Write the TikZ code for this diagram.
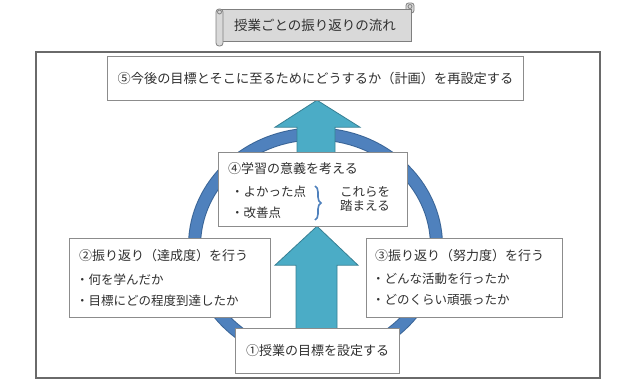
\documentclass[tikz,border=0pt]{standalone}
\usepackage{fontspec}
\setmainfont{Noto Sans CJK JP}
\usetikzlibrary{decorations.pathreplacing,calc}
\definecolor{txt}{HTML}{303030}
\definecolor{boxline}{HTML}{8C8C8C}
\definecolor{frameline}{HTML}{6A6A6A}
\definecolor{ringfill}{HTML}{4F81BD}
\definecolor{ringedge}{HTML}{3A6597}
\definecolor{arrowfill}{HTML}{4BACC6}
\definecolor{arrowedge}{HTML}{367F93}
\definecolor{scrollfill}{HTML}{D9D9D9}
\definecolor{scrollline}{HTML}{7F7F7F}
\tikzset{
  x=1pt, y=-1pt,
  whitebox/.style={draw=boxline, fill=white, line width=0.8pt, inner sep=0pt},
  bigarrow/.style={draw=arrowedge, fill=arrowfill, line width=0.8pt, line join=miter},
  headtext/.style={text=txt, font=\fontsize{13}{15}\selectfont, inner sep=0pt, anchor=west},
  itemtext/.style={text=txt, font=\fontsize{12.5}{15}\selectfont, inner sep=0pt, anchor=west},
  scrollpart/.style={draw=scrollline, fill=scrollfill, line width=0.8pt},
}
\begin{document}
\begin{tikzpicture}
\useasboundingbox (0,0) rectangle (640,391);
% title scroll
\draw[scrollpart, rounded corners=2.5pt] (406,3) rectangle (414,13);
\draw[scrollpart] (221,9) -- (411,9) -- (411,41) -- (221,41) -- cycle;
\draw[scrollpart, rounded corners=3pt] (216,9) rectangle (223,46);
\draw[scrollline, line width=0.8pt] (219.5,12) circle (2);
\draw[scrollline, line width=0.8pt] (410,6.5) circle (2);
\node[text=txt, font=\fontsize{13.5}{16}\selectfont, inner sep=0pt] (title) at (315,25) {授業ごとの振り返りの流れ};
% outer frame
\draw[frameline, line width=1.3pt] (36,52) rectangle (600,378);
% ring
\draw[ringedge, line width=13pt] (315.5,246) ellipse [x radius=121, y radius=112];
\draw[ringfill, line width=11pt] (315.5,246) ellipse [x radius=121, y radius=112];
% boxes (declared for names)
\path (315.5,78.5) node[minimum width=415, minimum height=43] (b5) {};
\path (313,189.5) node[minimum width=188, minimum height=73] (b4) {};
\path (170,278) node[minimum width=200, minimum height=78] (b2) {};
\path (464.5,278) node[minimum width=195, minimum height=78] (b3) {};
\path (317.5,351) node[minimum width=163, minimum height=44] (b1) {};
\coordinate (ax) at (317,0);
% lower arrow: b1 -> b4
\path (ax |- b4.south) coordinate (t1) (ax |- b1.north) coordinate (s1);
\draw[bigarrow] (t1) -- ([shift={(41,39)}]t1) -- ([shift={(20,39)}]t1) -- ([shift={(20,0)}]s1)
  -- ([shift={(-21,0)}]s1) -- ([shift={(-21,39)}]t1) -- ([shift={(-42,39)}]t1) -- cycle;
% upper arrow: b4 -> b5
\path (ax |- b5.south) coordinate (t2) (ax |- b4.north) coordinate (s2);
\draw[bigarrow] (t2) -- ([shift={(43,27)}]t2) -- ([shift={(18,27)}]t2) -- ([shift={(18,0)}]s2)
  -- ([shift={(-20,0)}]s2) -- ([shift={(-20,27)}]t2) -- ([shift={(-42,27)}]t2) -- cycle;
% draw boxes
\foreach \b in {b5,b4,b2,b3,b1}{
  \draw[whitebox] (\b.north west) rectangle (\b.south east);
}
% texts
\node[text=txt, font=\fontsize{13.2}{15}\selectfont, inner sep=0pt] (t5) at (b5.center) {⑤今後の目標とそこに至るためにどうするか（計画）を再設定する};
\node[headtext] (t4) at (228,169) {④学習の意義を考える};
\node[itemtext] (t4a) at (231,192) {・よかった点};
\node[itemtext] (t4b) at (231,213) {・改善点};
\draw[decorate, decoration={brace, amplitude=6pt}, draw=ringfill, line width=1.6pt] (315,186) -- (315,220);
\node[text=txt, font=\fontsize{12.5}{14}\selectfont, inner sep=0pt, align=center] (t4c) at (365,199) {これらを\\踏まえる};
\node[headtext] (t2) at (79,256) {②振り返り（達成度）を行う};
\node[itemtext] (t2a) at (76,280) {・何を学んだか};
\node[itemtext] (t2b) at (76,301) {・目標にどの程度到達したか};
\node[headtext] (t3) at (375,256) {③振り返り（努力度）を行う};
\node[itemtext] (t3a) at (372,279) {・どんな活動を行ったか};
\node[itemtext] (t3b) at (372,300) {・どのくらい頑張ったか};
\node[text=txt, font=\fontsize{13}{15}\selectfont, inner sep=0pt] (t1t) at (b1.center) {①授業の目標を設定する};
\end{tikzpicture}
\end{document}
